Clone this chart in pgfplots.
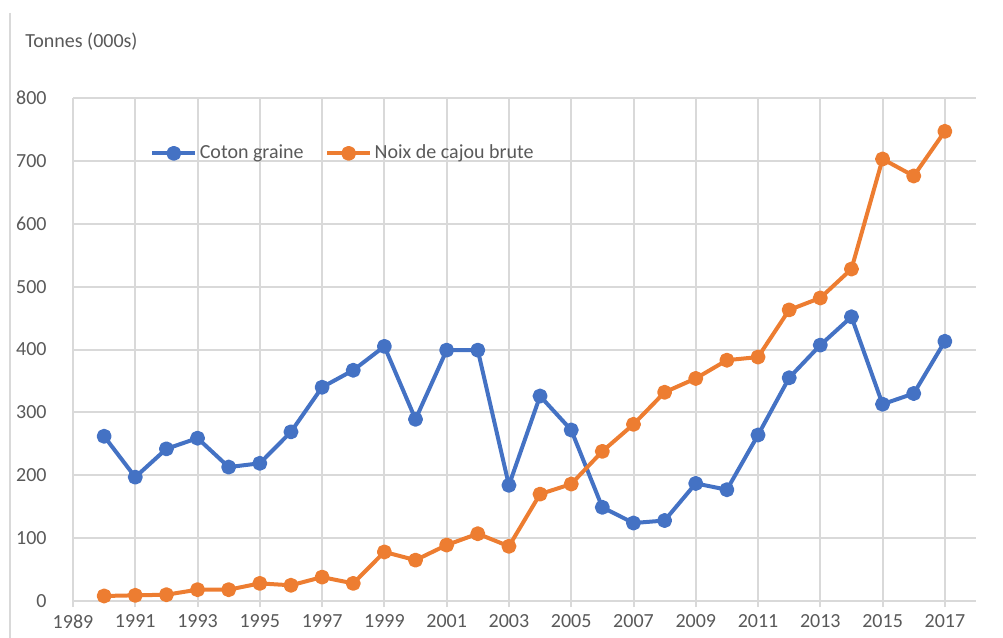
\documentclass[border=0pt]{standalone}
\usepackage{pgfplots}
\pgfplotsset{compat=1.18}
\usepackage{fontspec}
\setmainfont{Carlito}
\definecolor{cblue}{HTML}{4472C4}
\definecolor{corange}{HTML}{ED7D31}
\definecolor{gridgrey}{HTML}{D9D9D9}
\definecolor{txtgrey}{HTML}{595959}
\newcommand{\chartfont}{\fontsize{10}{12}\selectfont}
\begin{document}
\begin{tikzpicture}
\useasboundingbox (-36.5pt,-18.5pt) rectangle (465pt,300.5pt);
\draw[gridgrey, line width=1pt] (-31.5pt,294pt) -- (-31.5pt,-18.5pt);
\node[anchor=west, inner sep=0pt, font=\chartfont, text=txtgrey] at (-24pt,279.5pt) {Tonnes (000s)};
\begin{axis}[
  scale only axis, width=451.5pt, height=251.5pt,
  at={(0,0)}, anchor=south west,
  xmin=1989, xmax=2018, ymin=0, ymax=800,
  xtick={1989,1991,...,2017}, ytick={0,100,...,800},
  axis x line=bottom, axis y line=left,
  axis line style={-},
  x axis line style={draw=gridgrey, line width=1pt},
  y axis line style={draw=none},
  grid=major, major grid style={draw=gridgrey, line width=1pt},
  tick align=outside, major tick length=3pt,
  xtick style={draw=gridgrey, line width=1pt},
  ytick style={draw=none},
  /pgf/number format/assume math mode=true,
  /pgf/number format/1000 sep={},
  tick label style={font=\chartfont, text=txtgrey},
  xticklabel style={inner sep=1pt, yshift=-2.5pt},
  yticklabel style={inner sep=0pt, xshift=-10pt},
  legend columns=2,
  legend style={at={(axis cs:1991.47,712)}, anchor=west, draw=none, fill=none,
    inner sep=0pt, font=\chartfont, text=txtgrey,
    nodes={inner sep=1.25pt},
    /tikz/every even column/.append style={column sep=9.5pt}},
  legend image code/.code={\draw[mark repeat=2, mark phase=2, #1] plot coordinates {(0pt,0pt) (10.75pt,0pt) (21.5pt,0pt)};},
  every axis plot/.append style={line width=2pt, line join=round, mark=*, mark size=2.75pt},
]
\addplot[cblue, mark options={fill=cblue, draw=cblue}] coordinates {
(1990,262) (1991,197) (1992,242) (1993,259) (1994,213) (1995,219) (1996,269)
(1997,340) (1998,367) (1999,405) (2000,289) (2001,399) (2002,399) (2003,184)
(2004,326) (2005,272) (2006,149) (2007,124) (2008,128) (2009,187) (2010,177)
(2011,264) (2012,355) (2013,407) (2014,452) (2015,313) (2016,330) (2017,413)
};
\addlegendentry{Coton graine}
\addplot[corange, mark options={fill=corange, draw=corange}] coordinates {
(1990,8) (1991,9) (1992,10) (1993,18) (1994,18) (1995,28) (1996,25)
(1997,38) (1998,28) (1999,78) (2000,65) (2001,89) (2002,107) (2003,87)
(2004,170) (2005,186) (2006,238) (2007,281) (2008,332) (2009,354) (2010,383)
(2011,388) (2012,463) (2013,482) (2014,528) (2015,703) (2016,676) (2017,747)
};
\addlegendentry{Noix de cajou brute}
\end{axis}
\end{tikzpicture}
\end{document}
